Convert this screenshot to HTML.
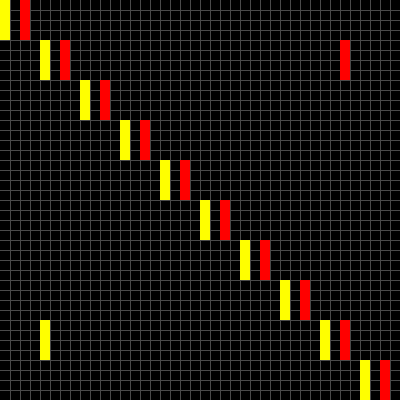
<!DOCTYPE html>
<html><head><meta charset="utf-8"><style>html,body{margin:0;padding:0;background:#000}svg{display:block}</style></head>
<body>
<svg id="c" width="400" height="400" xmlns="http://www.w3.org/2000/svg">
<rect width="400" height="400" fill="#000"/>
<g id="grid"></g>
<g id="marks"></g>
</svg>
<script>
// bar data: column index and starting row (in grid units), each bar spans 4 rows
const yellowCols = [0, 4, 8, 12, 16, 20, 24, 28, 32, 36, 4];
const yellowRows = [0, 4, 8, 12, 16, 20, 24, 28, 32, 36, 32];
const redCols = [2, 6, 10, 14, 18, 22, 26, 30, 34, 38, 34];
const redRows = [0, 4, 8, 12, 16, 20, 24, 28, 32, 36, 4];
const barSpan = 4;
const nCells = 40;

const cell = 400 / nCells;
const xs = c => c * cell;
const ys = r => r * cell;
const NS = 'http://www.w3.org/2000/svg';
const grid = document.getElementById('grid');
for (let i = 1; i < nCells; i++) {
  const v = document.createElementNS(NS, 'line');
  v.setAttribute('x1', xs(i) + 0.5); v.setAttribute('x2', xs(i) + 0.5);
  v.setAttribute('y1', 0); v.setAttribute('y2', 400);
  v.setAttribute('stroke', '#4a4a4a'); v.setAttribute('stroke-width', 1);
  
  
  grid.appendChild(v);
  const h = document.createElementNS(NS, 'line');
  h.setAttribute('y1', ys(i) + 0.5); h.setAttribute('y2', ys(i) + 0.5);
  h.setAttribute('x1', 0); h.setAttribute('x2', 400);
  h.setAttribute('stroke', '#4a4a4a'); h.setAttribute('stroke-width', 1);
  
  
  grid.appendChild(h);
}
const marks = document.getElementById('marks');
function bar(col, row, color, name) {
  const r = document.createElementNS(NS, 'rect');
  r.setAttribute('x', xs(col)); r.setAttribute('y', ys(row));
  r.setAttribute('width', cell); r.setAttribute('height', cell * barSpan);
  r.setAttribute('fill', color);
  
  
  marks.appendChild(r);
}
yellowCols.forEach((c, i) => bar(c, yellowRows[i], '#ffff00', 'yellow-bar'));
redCols.forEach((c, i) => bar(c, redRows[i], '#ff0000', 'red-bar'));
</script>
</body></html>
